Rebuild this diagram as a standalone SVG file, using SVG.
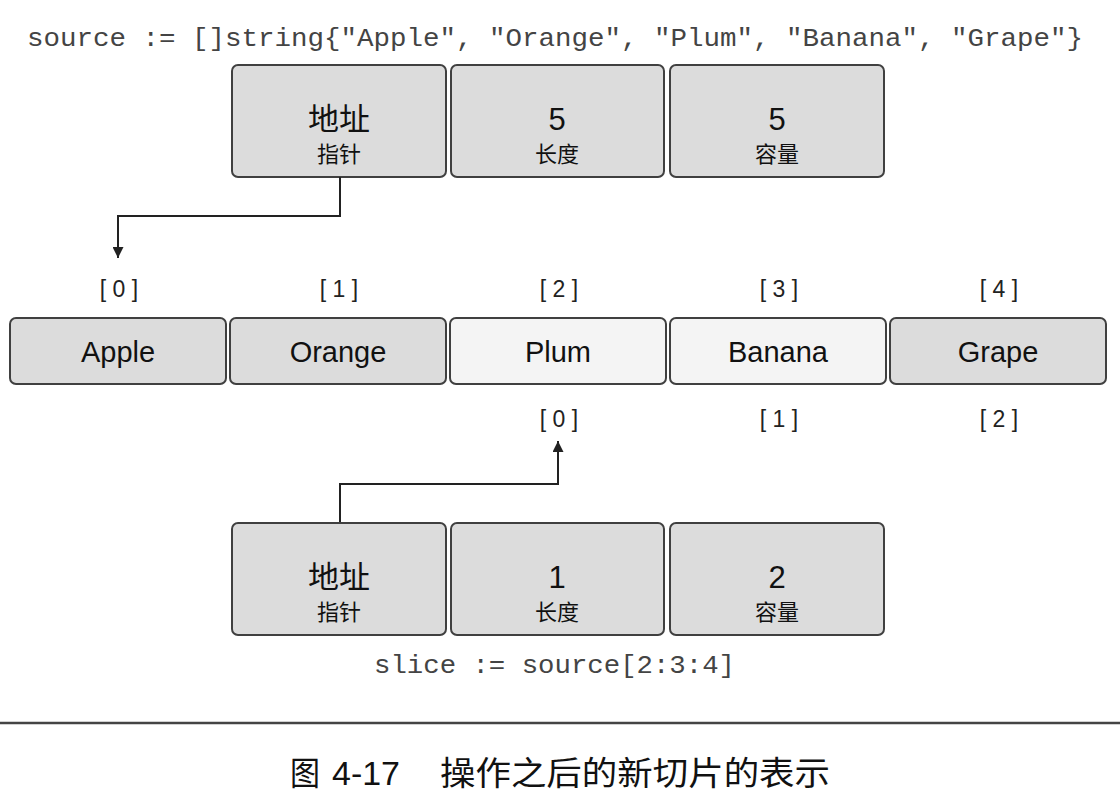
<svg xmlns="http://www.w3.org/2000/svg" width="1120" height="811" viewBox="0 0 1120 811">
<defs>
<style>
.bg{fill:#ffffff}
.box{fill:#dcdcdc;stroke:#404040;stroke-width:2}
.light{fill:#f4f4f4;stroke:#404040;stroke-width:2}
.code{font-family:"Liberation Mono","Courier New",monospace;font-size:26px;fill:#444}
.big{font-family:"Noto Sans CJK SC","Liberation Sans",sans-serif;font-size:31px;fill:#111;text-anchor:middle}
.num{font-family:"Liberation Sans",Arial,sans-serif;font-size:31px;fill:#111;text-anchor:middle}
.small{font-family:"Noto Sans CJK SC","Liberation Sans",sans-serif;font-size:22px;fill:#111;text-anchor:middle}
.item{font-family:"Liberation Sans",Arial,sans-serif;font-size:29px;fill:#111;text-anchor:middle}
.idx{font-family:"Liberation Sans",Arial,sans-serif;font-size:23px;fill:#222;text-anchor:middle}
.conn{fill:none;stroke:#222;stroke-width:2}
.cap{font-family:"Liberation Sans","Noto Sans CJK SC",sans-serif;font-size:33px;fill:#111}
</style>
<marker id="arr" viewBox="0 0 10 10" refX="10" refY="5" markerWidth="5.5" markerHeight="5.5" orient="auto" markerUnits="strokeWidth">
<path d="M0,0 L10,5 L0,10 z" fill="#222"/>
</marker>
</defs>
<rect class="bg" x="0" y="0" width="1120" height="811"/>

<text class="code" x="27" y="46" textLength="1056" lengthAdjust="spacingAndGlyphs">source := []string{"Apple", "Orange", "Plum", "Banana", "Grape"}</text>

<g id="src-ptr"><rect class="box" x="232" y="65" width="214" height="112" rx="6"/><text class="big" x="339" y="130">地址</text><text class="small" x="339" y="162">指针</text></g>
<g id="src-len"><rect class="box" x="451" y="65" width="213" height="112" rx="6"/><text class="num" x="557" y="130">5</text><text class="small" x="557" y="162">长度</text></g>
<g id="src-cap"><rect class="box" x="670" y="65" width="214" height="112" rx="6"/><text class="num" x="777" y="130">5</text><text class="small" x="777" y="162">容量</text></g>

<g id="top-idx">
<text class="idx" x="119" y="297">[ 0 ]</text>
<text class="idx" x="339" y="297">[ 1 ]</text>
<text class="idx" x="559" y="297">[ 2 ]</text>
<text class="idx" x="779" y="297">[ 3 ]</text>
<text class="idx" x="999" y="297">[ 4 ]</text>
</g>

<g id="apple"><rect class="box" x="10" y="318" width="216" height="66" rx="6"/><text class="item" x="118" y="362">Apple</text></g>
<g id="orange"><rect class="box" x="230" y="318" width="216" height="66" rx="6"/><text class="item" x="338" y="362">Orange</text></g>
<g id="plum"><rect class="light" x="450" y="318" width="216" height="66" rx="6"/><text class="item" x="558" y="362">Plum</text></g>
<g id="banana"><rect class="light" x="670" y="318" width="216" height="66" rx="6"/><text class="item" x="778" y="362">Banana</text></g>
<g id="grape"><rect class="box" x="890" y="318" width="216" height="66" rx="6"/><text class="item" x="998" y="362">Grape</text></g>

<g id="bottom-idx">
<text class="idx" x="559" y="427">[ 0 ]</text>
<text class="idx" x="779" y="427">[ 1 ]</text>
<text class="idx" x="999" y="427">[ 2 ]</text>
</g>

<g id="connectors">
<polyline class="conn" points="340,177 340,216 118,216 118,258" marker-end="url(#arr)"/>
<polyline class="conn" points="340,523 340,484 558,484 558,441" marker-end="url(#arr)"/>
</g>

<g id="sl-ptr"><rect class="box" x="232" y="523" width="214" height="112" rx="6"/><text class="big" x="339" y="588">地址</text><text class="small" x="339" y="620">指针</text></g>
<g id="sl-len"><rect class="box" x="451" y="523" width="213" height="112" rx="6"/><text class="num" x="557" y="588">1</text><text class="small" x="557" y="620">长度</text></g>
<g id="sl-cap"><rect class="box" x="670" y="523" width="214" height="112" rx="6"/><text class="num" x="777" y="588">2</text><text class="small" x="777" y="620">容量</text></g>

<text class="code" x="374" y="673" textLength="361" lengthAdjust="spacingAndGlyphs">slice := source[2:3:4]</text>

<line x1="0" y1="723" x2="1120" y2="723" stroke="#444" stroke-width="2.5"/>
<g id="caption">
<text class="cap" x="290" y="785" textLength="30" lengthAdjust="spacingAndGlyphs">图</text>
<text class="cap" x="332" y="785" textLength="68" lengthAdjust="spacingAndGlyphs">4-17</text>
<text class="cap" x="440" y="785" textLength="390" lengthAdjust="spacingAndGlyphs">操作之后的新切片的表示</text>
</g>
</svg>
